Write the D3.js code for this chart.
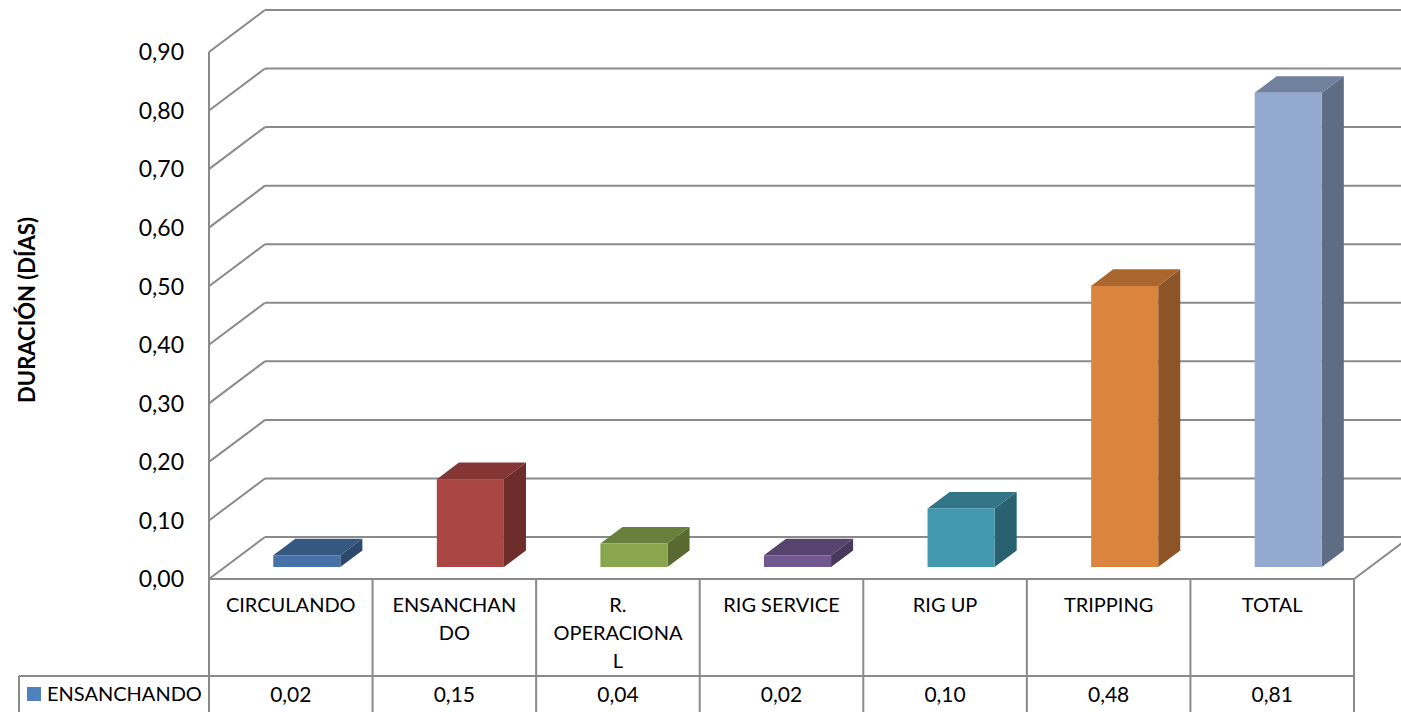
<!DOCTYPE html>
<html><head><meta charset="utf-8">
<script src="https://cdn.jsdelivr.net/npm/d3@7/dist/d3.min.js"></script>
<style>
body{margin:0;background:#fff}
svg{display:block}
text{font-family:Lato,"Open Sans",sans-serif;fill:#000}
</style>
</head><body>
<svg id="c" width="1401" height="712"></svg>
<script>
// ---- data ----
const categories = ["CIRCULANDO","ENSANCHANDO","R. OPERACIONAL","RIG SERVICE","RIG UP","TRIPPING","TOTAL"];
const categoryLines = [["CIRCULANDO"],["ENSANCHAN","DO"],["R.","OPERACIONA","L"],["RIG SERVICE"],["RIG UP"],["TRIPPING"],["TOTAL"]];
const values = [0.02,0.15,0.04,0.02,0.10,0.48,0.81];
const valueLabels = ["0,02","0,15","0,04","0,02","0,10","0,48","0,81"];
const seriesName = "ENSANCHANDO";
const yTicks = [0,0.1,0.2,0.3,0.4,0.5,0.6,0.7,0.8,0.9];
const yTickLabels = ["0,00","0,10","0,20","0,30","0,40","0,50","0,60","0,70","0,80","0,90"];
const yTitle = "DURACIÓN (DÍAS)";
const colors = ["#4572A7","#AA4643","#89A54E","#71588F","#4198AF","#DB843D","#93A9CF"];
const legendColor = "#4F81BD";

// ---- layout ----
const svg = d3.select("#c");
const left = 209, right = 1354;
const DX = 56, DY = -42;
const x = d3.scaleBand().domain(categories).range([left, right]).padding(0);
const y = d3.scaleLinear().domain([0, 0.9]).range([579, 52]);
const grid = "#8a8a8a";
const z0 = 0.286, z1 = 0.68, barFrac = 0.41;

const g = svg.append("g");

// back wall gridlines
g.selectAll("line.back").data(yTicks).join("line")
  .attr("x1", left + DX).attr("x2", right + DX + 60)
  .attr("y1", d => y(d) + DY).attr("y2", d => y(d) + DY)
  .attr("stroke", grid).attr("stroke-width", 2);
// side wall diagonals
g.selectAll("line.diag").data(yTicks).join("line")
  .attr("x1", left).attr("x2", left + DX)
  .attr("y1", d => y(d)).attr("y2", d => y(d) + DY)
  .attr("stroke", grid).attr("stroke-width", 2);
// floor right edge
g.append("line").attr("x1", right).attr("y1", y(0)).attr("x2", right + DX).attr("y2", y(0) + DY)
  .attr("stroke", grid).attr("stroke-width", 2);

// bars
function shade(c, k){ const r = d3.rgb(c); return d3.rgb(r.r*k, r.g*k, r.b*k).formatHex(); }
const bw = x.bandwidth() * barFrac;
const bars = g.selectAll("g.bar").data(categories).join("g");
bars.each(function(c, i){
  const v = values[i];
  const x0 = x(c) + (x.bandwidth() - bw) / 2 + z0 * DX;
  const top = y(v) + z0 * DY, bot = y(0) + z0 * DY;
  const ddx = (z1 - z0) * DX, ddy = (z1 - z0) * DY;
  const el = d3.select(this);
  el.append("polygon")
    .attr("points", [[x0+bw,top],[x0+bw+ddx,top+ddy],[x0+bw+ddx,bot+ddy],[x0+bw,bot]].map(p=>p.join(",")).join(" "))
    .attr("fill", shade(colors[i], 0.64));
  el.append("polygon")
    .attr("points", [[x0,top],[x0+bw,top],[x0+bw+ddx,top+ddy],[x0+ddx,top+ddy]].map(p=>p.join(",")).join(" "))
    .attr("fill", shade(colors[i], 0.77));
  el.append("rect").attr("x", x0).attr("y", top).attr("width", bw).attr("height", bot - top)
    .attr("fill", colors[i]);
});

// axis line
g.append("line").attr("x1", left).attr("x2", left).attr("y1", y(0.9)).attr("y2", 712)
  .attr("stroke", grid).attr("stroke-width", 2);

// tick labels
g.selectAll("text.tick").data(yTicks).join("text")
  .attr("x", 184).attr("y", d => y(d)).attr("dy", "0.36em")
  .attr("text-anchor", "end").attr("font-size", 23)
  .text((d, i) => yTickLabels[i]);

// y title
g.append("text").attr("transform", "translate(35,310) rotate(-90)")
  .attr("text-anchor", "middle").attr("font-size", 22).attr("font-weight", "bold")
  .text(yTitle);

// data table
const tbl = g.append("g");
tbl.append("line").attr("x1", left).attr("x2", right).attr("y1", y(0)).attr("y2", y(0))
  .attr("stroke", grid).attr("stroke-width", 2);
tbl.append("line").attr("x1", 19).attr("x2", right).attr("y1", 676).attr("y2", 676)
  .attr("stroke", grid).attr("stroke-width", 2);
const bounds = categories.map(c => x(c)).concat([right]);
tbl.selectAll("line.v").data(bounds).join("line")
  .attr("x1", d => d).attr("x2", d => d).attr("y1", y(0)).attr("y2", 712)
  .attr("stroke", grid).attr("stroke-width", 2);
tbl.append("line").attr("x1", 19).attr("x2", 19).attr("y1", 676).attr("y2", 712)
  .attr("stroke", grid).attr("stroke-width", 2);

categories.forEach((c, i) => {
  const t = tbl.append("text").attr("x", x(c) + x.bandwidth()/2).attr("y", 612)
    .attr("text-anchor", "middle").attr("font-size", 20);
  categoryLines[i].forEach((ln, j) => {
    t.append("tspan").attr("x", x(c) + x.bandwidth()/2).attr("y", 612 + j*28).text(ln);
  });
  tbl.append("text").attr("x", x(c) + x.bandwidth()/2).attr("y", 702)
    .attr("text-anchor", "middle").attr("font-size", 21).text(valueLabels[i]);
});

// legend key
tbl.append("rect").attr("x", 27).attr("y", 687).attr("width", 14).attr("height", 14).attr("fill", legendColor);
tbl.append("text").attr("x", 47).attr("y", 701).attr("font-size", 20).text(seriesName);
</script>
</body></html>
